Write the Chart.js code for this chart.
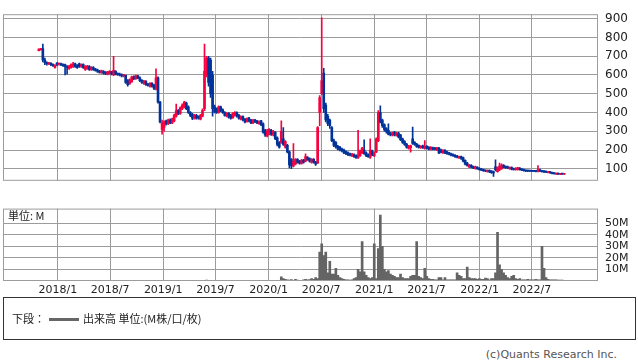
<!DOCTYPE html>
<html>
<head>
<meta charset="utf-8">
<script src="https://cdn.jsdelivr.net/npm/chart.js@4"></script>
<style>
  body { margin: 0; background: #fff; width: 638px; height: 362px; overflow: hidden; position: relative; font-family: "DejaVu Sans", sans-serif; }
  #price { position: absolute; left: 0; top: 0; }
  #volume { position: absolute; left: 0; top: 195px; }
  #legend { position: absolute; left: 3px; top: 297px; width: 633px; height: 43px; border: 1px solid #333; box-sizing: border-box; font-size: 11px; color: #222; font-family: "Noto Sans CJK JP", "DejaVu Sans", sans-serif; }
  #legend .row { position: absolute; left: 8px; top: 13px; line-height: 14px; white-space: nowrap; }
  #legend .swatch { display: inline-block; width: 30px; height: 3px; background: #666; vertical-align: middle; margin: 0 4px 2px 4px; }
  #credit { position: absolute; right: 21px; top: 348px; font-size: 11px; color: #555; font-family: "DejaVu Sans", sans-serif; }
</style>
</head>
<body>
<canvas id="price" width="638" height="195"></canvas>
<canvas id="volume" width="638" height="105"></canvas>
<div id="legend"><div class="row">下段：<span class="swatch"></span>出来高 単位:(M株/口/枚)</div></div>
<div id="credit">(c)Quants Research Inc.</div>
<script>
// weekly candles, first week 2017-10-27
const opens = [
  730,735,740,680,665,660,662,655,640,662,658,660,655,655,645,635,640,645,660,650,
  660,645,655,630,635,645,628,640,632,628,620,612,620,615,605,608,615,600,620,608,
  605,602,595,598,570,555,565,590,580,595,585,572,555,565,550,540,555,545,525,585,
  455,310,320,355,340,360,345,355,380,410,395,420,430,450,430,400,390,370,385,378,
  365,380,420,600,690,680,600,430,420,400,430,415,400,380,395,385,372,385,400,385,
  365,378,365,352,370,360,345,360,355,340,355,340,305,275,285,305,280,295,265,240,
  240,260,215,225,190,150,115,125,150,140,128,145,140,160,155,135,150,135,130,400,
  500,610,440,380,360,320,250,240,220,215,205,200,192,185,180,168,175,170,158,170,
  185,200,185,175,160,195,170,190,250,400,360,335,315,305,290,280,295,278,290,280,
  260,245,232,210,212,260,240,232,225,212,222,208,220,215,205,212,210,200,210,200,
  185,198,190,185,180,176,172,168,158,165,160,145,130,110,118,112,102,108,102,98,
  95,92,86,92,88,84,110,85,95,100,118,112,110,100,106,100,95,96,104,98,
  95,92,90,90,90,89,90,85,95,90,87,86,80,84,80,77,72,75,71,74,71
];
const highs = [
  740,742,765,690,670,668,666,660,655,666,664,664,660,658,650,652,660,668,664,655,
  664,660,660,650,652,650,645,645,636,632,625,626,624,618,620,624,620,700,624,612,
  610,606,604,600,575,580,594,595,600,598,590,576,572,570,556,560,560,550,633,590,
  460,360,356,360,365,366,370,392,445,415,430,446,460,455,435,405,395,390,390,382,
  390,420,765,700,700,690,620,440,425,436,434,420,405,400,400,390,400,405,404,390,
  382,382,368,372,374,364,364,364,358,355,358,345,310,310,315,310,305,298,270,245,
  355,320,250,230,195,155,235,155,155,145,150,150,180,165,158,155,154,140,325,490,
  905,635,450,390,365,325,258,245,225,220,210,205,196,190,184,182,180,174,305,200,
  215,255,190,180,260,200,190,265,410,435,365,340,320,340,295,295,300,295,294,284,
  264,250,236,225,226,323,245,236,228,224,226,250,224,218,218,216,214,215,214,205,
  202,202,194,188,184,180,176,172,168,168,163,148,134,124,122,115,114,112,106,102,
  98,95,95,95,91,88,148,110,130,126,122,116,114,110,110,104,106,108,107,101,
  98,95,93,92,92,92,92,117,98,92,90,88,87,86,82,79,77,77,76,76,75
];
const lows = [
  728,732,670,655,652,655,650,645,636,650,652,650,645,600,605,630,636,640,640,635,
  640,640,635,625,630,625,624,625,620,614,610,608,605,602,600,604,600,596,600,598,
  595,590,590,555,540,550,560,575,576,580,565,555,550,544,540,535,535,522,520,450,
  345,285,300,332,335,340,340,350,375,388,390,415,425,415,395,378,362,365,365,365,
  360,376,410,590,540,480,380,398,395,396,405,395,380,376,370,365,368,380,375,365,
  360,355,345,348,350,340,340,346,340,336,330,290,272,270,280,278,275,255,222,210,
  235,225,210,185,105,100,110,120,130,125,124,130,136,145,135,130,130,118,128,330,
  495,400,350,330,315,245,218,210,200,195,190,180,175,170,168,165,160,155,155,166,
  180,176,165,160,155,170,165,186,245,345,320,300,290,280,275,275,275,274,265,250,
  235,225,210,205,188,230,225,214,210,208,208,205,206,200,200,200,200,196,180,184,
  182,180,176,174,168,166,160,158,155,150,136,120,114,106,104,100,98,96,92,90,
  86,84,82,80,76,60,88,82,90,96,104,102,100,96,94,92,92,93,92,90,
  87,85,85,85,84,84,83,83,85,82,80,79,78,76,73,71,70,70,69,70,70
];
const closes = [
  738,740,680,665,660,662,655,650,652,658,660,655,650,645,640,648,655,660,645,640,
  645,655,640,645,648,630,640,630,625,620,615,622,610,608,615,620,605,625,605,602,
  600,595,600,560,548,575,590,580,595,585,570,560,568,548,545,555,540,530,585,455,
  350,345,350,340,360,345,365,385,410,395,425,440,455,420,400,385,370,385,370,372,
  385,410,620,690,560,500,420,405,400,430,410,400,385,395,375,370,395,400,380,370,
  378,360,350,368,355,345,360,352,345,350,335,295,280,300,310,285,300,260,230,215,
  300,230,245,190,120,115,140,150,135,130,145,135,165,150,140,150,135,125,320,480,
  570,420,360,340,330,250,225,215,205,200,195,185,180,175,172,178,165,160,175,195,
  210,180,170,165,200,175,185,260,400,350,330,310,300,285,280,290,280,290,270,255,
  240,230,215,220,222,235,230,218,215,220,212,220,210,205,215,205,205,212,185,188,
  198,185,180,178,172,170,165,162,165,155,140,125,118,120,108,105,110,100,96,93,
  90,88,92,85,80,78,95,105,115,120,108,106,104,106,98,96,103,105,95,93,
  90,88,88,88,87,87,86,95,88,85,84,82,84,79,76,74,75,72,74,72,73
];
// volume, millions
const volumes = [
  0,0,0,0,0,0,0,0,0,0,0,0,0,0,0,0,0,0,0,0,
  0,0,0,0,0,0,0,0,0,0,0,0,0,0,0,0,0,0,0,0,
  0,0,0,0,0,0,0,0,0,0,0,0,0,0,0,0,0,0,0,0,
  0,0,0,0,0,0,0,0,0,0,0,0,0,0,0,0,0,0,0,0,
  0,0,0.6,0.8,0.5,0.3,0.2,0.1,0.1,0.1,0.1,0.1,0.1,0.1,0.1,0.1,0.1,0.1,0.1,0.1,
  0.1,0.1,0.1,0.1,0.1,0.1,0.1,0.1,0.1,0.1,0.1,0.1,0.1,0.1,0.1,0.2,0.2,0.2,0.2,0.3,
  3.5,2,1.5,1,0.8,1.2,0.6,1.5,0.8,0.5,0.5,1,1.5,1,1.2,2,1.5,3,2,25,
  32,22,25,7,17,6,6,11,5,3,2,1.5,1,1,0.8,1,2,3,10,8,
  34,8,5,3,2,3,32,2,28,57,30,10,8,9,6,5,4,3,3,6,
  3,2,2,2,4,5,5,34,4,3,2,11,4,2,1.5,1.5,1,1,3,3,
  1,3,1,1,1,1,1,7,5,4,2,2,12,3,2,2,2,1.5,2,1.5,
  1.5,2.5,2,1,2,2,7,42,14,10,7,5,3,2,4,5,2,1.5,2,1,
  1,1,1.5,1,1,1,1.5,1,1,30,11,3,1.5,1,1,1,1,0.8,0.7,0.7,0.5
];
const tickLabels = ['2018/1', '2018/7', '2019/1', '2019/7', '2020/1', '2020/7', '2021/1', '2021/7', '2022/1', '2022/7'];
const tickMonths = [[2018, 0], [2018, 6], [2019, 0], [2019, 6], [2020, 0], [2020, 6], [2021, 0], [2021, 6], [2022, 0], [2022, 6]];
const priceTicks = [100, 200, 300, 400, 500, 600, 700, 800, 900];
const volumeTicks = [10, 20, 30, 40, 50];

const UP = '#f7003f';
const DOWN = '#003399';
const GRID = '#9c9c9c';
const DAY = 86400000;
const BASE = Date.UTC(2018, 0, 1);
const FIRST_WEEK = Date.UTC(2017, 9, 27);
const X_MIN = -190;
const X_MAX = 1871;

const weekX = closes.map((c, i) => (FIRST_WEEK - BASE) / DAY + i * 7);
const tickDays = tickMonths.map(([y, m]) => (Date.UTC(y, m, 1) - BASE) / DAY);
const candleColor = (ctx) => closes[ctx.dataIndex] >= opens[ctx.dataIndex] ? UP : DOWN;

// box around the plot area
const frame = {
  id: 'frame',
  afterDatasetsDraw(chart) {
    const { ctx, chartArea: a } = chart;
    ctx.save();
    ctx.strokeStyle = GRID;
    ctx.lineWidth = 1;
    ctx.strokeRect(a.left + 0.5, a.top + 0.5, a.right - a.left - 1, a.bottom - a.top - 1);
    ctx.restore();
  }
};

const unitLabel = {
  id: 'unitLabel',
  afterDraw(chart) {
    const { ctx, chartArea: a } = chart;
    ctx.save();
    ctx.fillStyle = '#222';
    ctx.font = '11px "Noto Sans CJK JP", sans-serif';
    ctx.textBaseline = 'middle';
    ctx.fillText('単位: M', a.left + 5, a.top + 7);
    ctx.restore();
  }
};

function xScale(showLabels) {
  return {
    type: 'linear',
    min: X_MIN,
    max: X_MAX,
    offset: false,
    grid: { color: GRID, drawTicks: false, offset: false },
    border: { display: false },
    afterBuildTicks: (axis) => { axis.ticks = tickDays.map(v => ({ value: v })); },
    afterFit: (axis) => { axis.height = showLabels ? 19 : 5; },
    ticks: {
      display: showLabels,
      autoSkip: false,
      maxRotation: 0,
      padding: 3,
      color: '#222',
      font: { family: 'DejaVu Sans', size: 11 },
      callback: (v, i) => tickLabels[i]
    }
  };
}

function yScale(min, max, ticks, suffix, size) {
  return {
    position: 'right',
    min: min,
    max: max,
    grid: { color: GRID, drawTicks: false },
    border: { display: false },
    afterBuildTicks: (axis) => { axis.ticks = ticks.map(v => ({ value: v })); },
    afterFit: (axis) => { axis.width = 40; },
    ticks: {
      padding: 7,
      color: '#222',
      font: { family: 'DejaVu Sans', size: size },
      callback: (v) => v + suffix
    }
  };
}

new Chart(document.getElementById('price'), {
  type: 'bar',
  data: {
    datasets: [
      {
        data: weekX.map((x, i) => ({ x: x, y: [lows[i], highs[i]] })),
        backgroundColor: candleColor,
        barThickness: 1,
        grouped: false
      },
      {
        data: weekX.map((x, i) => ({ x: x, y: [opens[i], closes[i]] })),
        backgroundColor: candleColor,
        barThickness: 2,
        minBarLength: 1,
        grouped: false
      }
    ]
  },
  options: {
    responsive: false,
    animation: false,
    layout: { padding: { left: 3, top: 1, right: 0, bottom: 0 } },
    plugins: { legend: { display: false }, tooltip: { enabled: false } },
    scales: {
      x: xScale(false),
      y: yScale(36, 924, priceTicks, '', 12)
    }
  },
  plugins: [frame]
});

new Chart(document.getElementById('volume'), {
  type: 'bar',
  data: {
    datasets: [{
      data: weekX.map((x, i) => ({ x: x, y: volumes[i] })),
      backgroundColor: '#646464',
      barThickness: 2
    }]
  },
  options: {
    responsive: false,
    animation: false,
    layout: { padding: { left: 3, top: 8, right: 0, bottom: 0 } },
    plugins: { legend: { display: false }, tooltip: { enabled: false } },
    scales: {
      x: xScale(true),
      y: yScale(0, 62.5, volumeTicks, 'M', 11)
    }
  },
  plugins: [frame, unitLabel]
});
</script>
</body>
</html>
